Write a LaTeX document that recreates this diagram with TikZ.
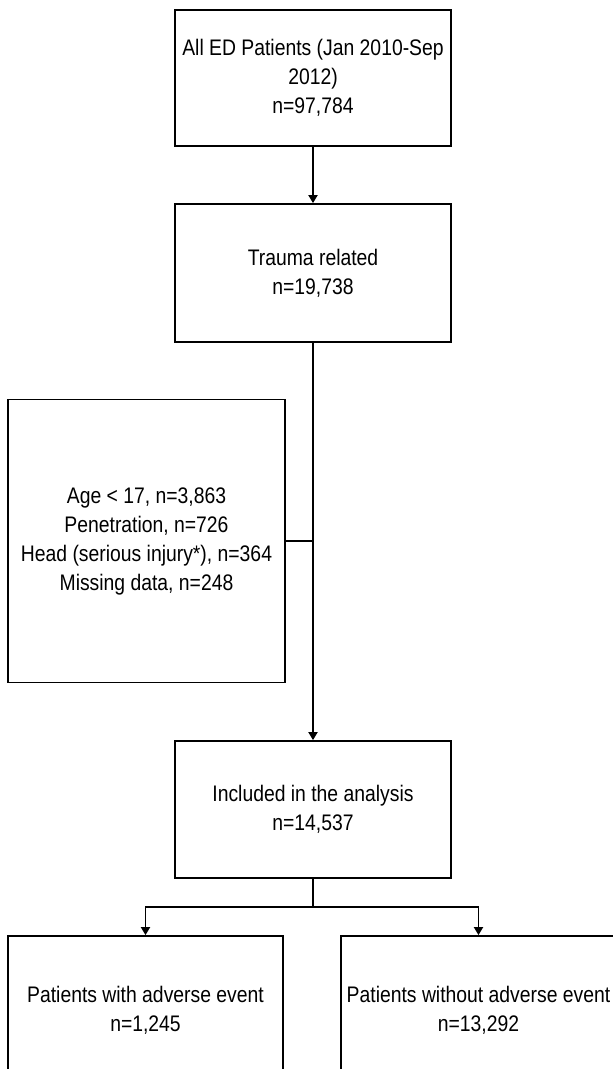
\documentclass[tikz,border=0pt]{standalone}
\usepackage{fontspec}
\setmainfont{Liberation Sans}[FakeStretch=0.86]
\usetikzlibrary{arrows.meta}
\begin{document}
\begin{tikzpicture}[x=1pt,y=-1pt,
  box/.style={draw=black, line width=1.8pt, inner sep=0pt, align=center,
    font=\fontsize{22.5}{29}\selectfont, text=black},
  conn/.style={line width=1.8pt, draw=black},
  arr/.style={conn, -{Triangle[width=9pt,length=8pt]}}]
\useasboundingbox (0,0) rectangle (613,1069);
\clip (0,0) rectangle (613,1069);
\node[box, minimum width=276pt, minimum height=136pt] (b1) at (313,78)
  {All ED Patients (Jan 2010-Sep\\2012)\\n=97,784};
\node[box, minimum width=276pt, minimum height=138pt] (b2) at (313,273)
  {Trauma related\\n=19,738};
\node[box, minimum width=277pt, minimum height=283pt] (b6) at (146.5,541)
  {Age < 17, n=3,863\\Penetration, n=726\\Head (serious injury*), n=364\\Missing data, n=248};
\node[box, minimum width=276pt, minimum height=137pt] (b3) at (313,809.5)
  {Included in the analysis\\n=14,537};
\node[box, minimum width=275pt, minimum height=148pt] (b4) at (145.5,1010)
  {Patients with adverse event\\n=1,245};
\node[box, minimum width=275pt, minimum height=148pt] (b5) at (478.5,1010)
  {Patients without adverse event\\n=13,292};
\coordinate (split) at (313,907);
\draw[arr] (b1.south) -- (b2.north);
\draw[arr] (b2.south) -- (b3.north);
\draw[conn] (b6.east) -- (b6.east -| b2.south);
\draw[conn] (b3.south) -- (split);
\draw[arr] (split) -| (b4.north);
\draw[arr] (split) -| (b5.north);
\end{tikzpicture}
\end{document}
